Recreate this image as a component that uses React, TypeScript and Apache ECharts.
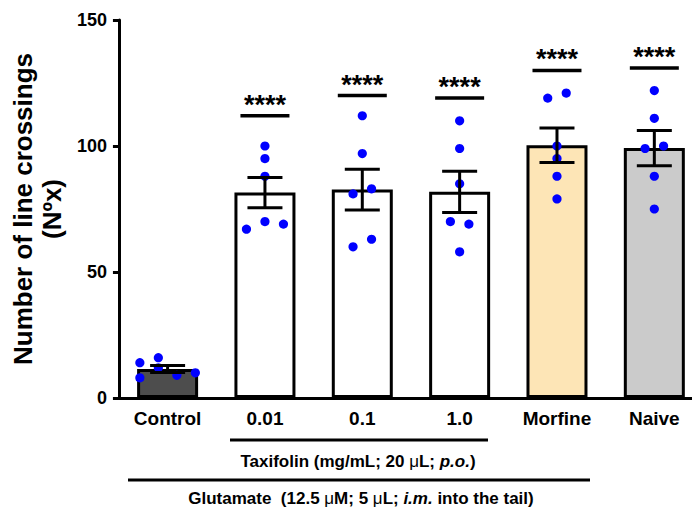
import React, { useEffect, useRef } from "react";
import * as echarts from "echarts";

const categories = ["Control", "0.01", "0.1", "1.0", "Morfine", "Naive"];
const meanValues = [11.5, 81.5, 82.7, 81.8, 100.3, 99.2];
const semValues = [1.4, 6.0, 8.1, 8.2, 6.8, 7.0];
const controlDots = [14, 16, 8, 12, 9, 10];
const taxi001Dots = [100, 95, 88, 67, 70, 69];
const taxi01Dots = [112, 97, 81, 83, 60, 63];
const taxi1Dots = [110, 99, 85, 70, 69, 58];
const morfineDots = [119, 121, 100, 95, 88, 79];
const naiveDots = [122, 111, 99, 100, 88, 75];
const sigLineValues: (number | null)[] = [null, 112, 120, 119, 130, 131];
const sigLabel = "****";
const yMin = 0;
const yMax = 150;
const yInterval = 50;

const dotGroups = [controlDots, taxi001Dots, taxi01Dots, taxi1Dots, morfineDots, naiveDots];
const barFills = ["#4d4d4d", "#ffffff", "#ffffff", "#ffffff", "#fde5b6", "#cbcbcb"];
const FONT = "'Liberation Sans', Arial, Helvetica, sans-serif";

// simple beeswarm: chain close values into rows, spread each row horizontally
function layoutSlots(values: number[], linkGap: number, maxRow: number): number[] {
  const order = values.map((_, i) => i).sort((a, b) => values[a] - values[b]);
  const chains: number[][] = [];
  let cur: number[] = [];
  order.forEach((idx, k) => {
    if (k > 0 && values[idx] - values[order[k - 1]] >= linkGap) {
      chains.push(cur);
      cur = [];
    }
    cur.push(idx);
  });
  if (cur.length) chains.push(cur);
  const slots = new Array(values.length).fill(0);
  chains.forEach((chain) => {
    if (chain.length <= maxRow) {
      const row = [...chain].sort((a, b) => a - b);
      row.forEach((idx, j) => (slots[idx] = j - (row.length - 1) / 2));
    } else {
      for (let s = 0; s < chain.length; s += maxRow) {
        const row = chain.slice(s, s + maxRow).sort((a, b) => a - b);
        row.forEach((idx, j) => (slots[idx] = j - (maxRow - 1) / 2));
      }
    }
  });
  return slots;
}

export default function App() {
  const ref = useRef<HTMLDivElement>(null);
  useEffect(() => {
    document.body.style.margin = "0";
    document.body.style.overflow = "hidden";
    document.documentElement.style.overflow = "hidden";
    if (!ref.current) return;
    const chart = echarts.init(ref.current, null, { renderer: "svg" });

    const dotData: number[][] = [];
    dotGroups.forEach((vals, ci) => {
      const slots = layoutSlots(vals, 3.5, 4);
      vals.forEach((v, k) => dotData.push([ci, v, slots[k]]));
    });
    const errData = meanValues.map((m, i) => [i, m, semValues[i]]);
    const sigData = sigLineValues
      .map((v, i) => (v == null ? null : [i, v]))
      .filter((d) => d != null) as number[][];

    const option: any = {
      animation: false,
      grid: { left: 114, top: 20, height: 378, width: 589, containLabel: false },
      xAxis: {
        type: "category",
        data: categories,
        axisLine: { lineStyle: { color: "#000", width: 3 } },
        axisTick: { alignWithLabel: true, length: 7, lineStyle: { color: "#000", width: 3 } },
        axisLabel: { color: "#000", fontSize: 19, fontWeight: "bold", fontFamily: FONT, margin: 11 },
      },
      yAxis: {
        type: "value",
        min: yMin,
        max: yMax,
        interval: yInterval,
        name: "Number of line crossings\n(Nºx)",
        nameLocation: "middle",
        nameGap: 44,
        nameTextStyle: { color: "#000", fontSize: 26, fontWeight: "bold", fontFamily: FONT, lineHeight: 29 },
        splitLine: { show: false },
        axisLine: { show: true, lineStyle: { color: "#000", width: 3 } },
        axisTick: { show: true, length: 6, lineStyle: { color: "#000", width: 3 } },
        axisLabel: { color: "#000", fontSize: 18, fontWeight: "bold", fontFamily: FONT, margin: 12 },
      },
      series: [
        {
          type: "bar",
          barWidth: 61,
          z: 2,
          data: meanValues.map((v, i) => ({
            value: v,
            itemStyle: { color: barFills[i], borderColor: "#000", borderWidth: 3 },
          })),
        },
        {
          type: "custom",
          z: 3,
          data: dotData,
          encode: { x: 0, y: 1 },
          renderItem: (params: any, api: any) => {
            const p = api.coord([api.value(0), api.value(1)]);
            return {
              type: "circle",
              shape: { cx: p[0] + api.value(2) * 18.5, cy: p[1], r: 4.6 },
              style: { fill: "#0000ff" },
            };
          },
        },
        {
          type: "custom",
          z: 4,
          data: errData,
          encode: { x: 0, y: 1 },
          renderItem: (params: any, api: any) => {
            const i = api.value(0);
            const m = api.value(1);
            const s = api.value(2);
            const top = api.coord([i, m + s]);
            const bot = api.coord([i, m - s]);
            const hw = 17.5;
            const st = { stroke: "#000", lineWidth: 3 };
            return {
              type: "group",
              children: [
                { type: "line", shape: { x1: top[0], y1: top[1], x2: bot[0], y2: bot[1] }, style: st },
                { type: "line", shape: { x1: top[0] - hw, y1: top[1], x2: top[0] + hw, y2: top[1] }, style: st },
                { type: "line", shape: { x1: bot[0] - hw, y1: bot[1], x2: bot[0] + hw, y2: bot[1] }, style: st },
              ],
            };
          },
        },
        {
          type: "custom",
          z: 4,
          data: sigData,
          encode: { x: 0, y: 1 },
          renderItem: (params: any, api: any) => {
            const p = api.coord([api.value(0), api.value(1)]);
            const hw = 24.5;
            return {
              type: "group",
              children: [
                {
                  type: "line",
                  shape: { x1: p[0] - hw, y1: p[1], x2: p[0] + hw, y2: p[1] },
                  style: { stroke: "#000", lineWidth: 3.5 },
                },
                {
                  type: "text",
                  style: {
                    text: sigLabel,
                    x: p[0],
                    y: p[1] - 11,
                    align: "center",
                    verticalAlign: "middle",
                    fill: "#000",
                    font: `bold 27px ${FONT}`,
                  },
                },
              ],
            };
          },
        },
      ],
      graphic: [
        {
          type: "line",
          shape: { x1: 230, y1: 440, x2: 488, y2: 440 },
          style: { stroke: "#000", lineWidth: 3 },
        },
        {
          type: "text",
          x: 358,
          y: 461,
          style: {
            text: "{b|Taxifolin (mg/mL; 20 }{m|μ}{b|L; }{i|p.o.}{b|)}",
            align: "center",
            verticalAlign: "middle",
            rich: {
              b: { fontSize: 17, fontWeight: "bold", fontFamily: FONT, fill: "#000" },
              m: { fontSize: 17, fontWeight: "normal", fontFamily: FONT, fill: "#000" },
              i: { fontSize: 17, fontWeight: "bold", fontStyle: "italic", fontFamily: FONT, fill: "#000" },
            },
          },
        },
        {
          type: "line",
          shape: { x1: 128, y1: 480, x2: 590, y2: 480 },
          style: { stroke: "#000", lineWidth: 3 },
        },
        {
          type: "text",
          x: 361,
          y: 498,
          style: {
            text: "{b|Glutamate  (12.5 }{m|μ}{b|M; 5 }{m|μ}{b|L; }{i|i.m.}{b| into the tail)}",
            align: "center",
            verticalAlign: "middle",
            rich: {
              b: { fontSize: 17, fontWeight: "bold", fontFamily: FONT, fill: "#000" },
              m: { fontSize: 17, fontWeight: "normal", fontFamily: FONT, fill: "#000" },
              i: { fontSize: 17, fontWeight: "bold", fontStyle: "italic", fontFamily: FONT, fill: "#000" },
            },
          },
        },
      ],
    };
    chart.setOption(option);
    return () => chart.dispose();
  }, []);
  return <div ref={ref} style={{ width: 704, height: 509 }} />;
}
